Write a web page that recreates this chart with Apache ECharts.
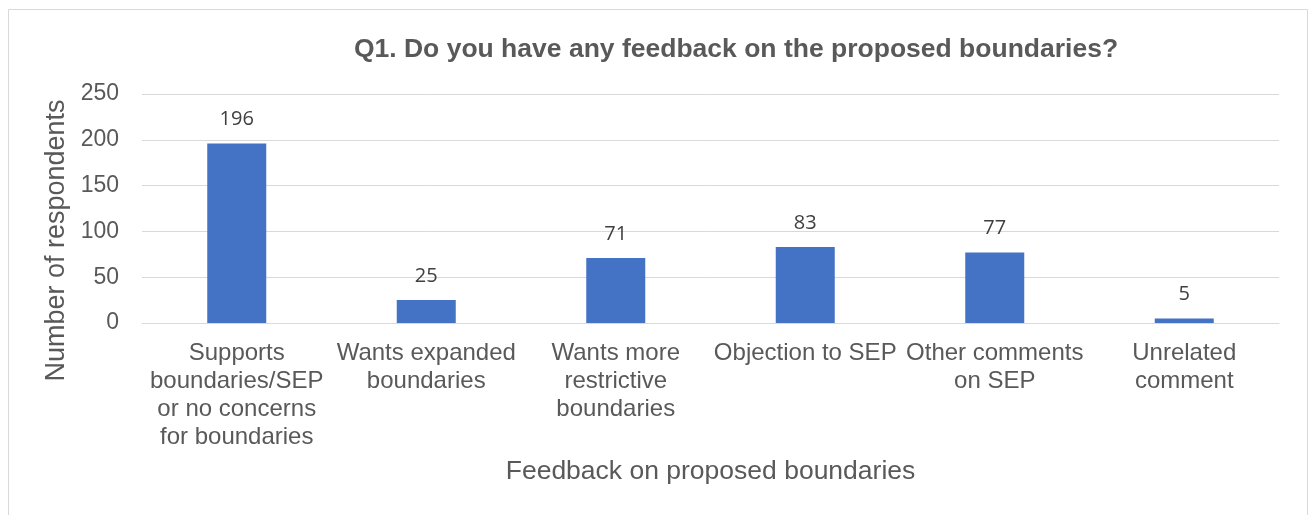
<!DOCTYPE html>
<html>
<head>
<meta charset="utf-8">
<script src="https://cdn.jsdelivr.net/npm/echarts@6/dist/echarts.min.js"></script>
<style>
  html, body { margin: 0; padding: 0; background: #ffffff; }
  #chart { width: 1312px; height: 515px; }
</style>
</head>
<body>
<div id="chart"></div>
<script>
// Feedback categories (line breaks as shown under each bar)
const categories = [
  'Supports\nboundaries/SEP\nor no concerns\nfor boundaries',
  'Wants expanded\nboundaries',
  'Wants more\nrestrictive\nboundaries',
  'Objection to SEP',
  'Other comments\non SEP',
  'Unrelated\ncomment'
];
// Number of respondents per category
const respondents = [196, 25, 71, 83, 77, 5];
// Value axis ticks
const yTicks = [0, 50, 100, 150, 200, 250];

const textGray = '#595959';
const gridGray = '#d9d9d9';

const chart = echarts.init(document.getElementById('chart'), null, { renderer: 'canvas' });

chart.setOption({
  animation: false,
  backgroundColor: '#ffffff',
  title: {
    text: 'Q1. Do you have any feedback on the proposed boundaries?',
    left: 731,
    top: 31,
    textAlign: 'center',
    textStyle: {
      fontFamily: 'Liberation Sans',
      fontWeight: 'bold',
      fontSize: 26.5,
      color: textGray
    }
  },
  graphic: [{
    type: 'rect',
    shape: { x: 8.5, y: 9.5, width: 1299, height: 520 },
    style: { fill: 'none', stroke: gridGray, lineWidth: 1 },
    silent: true
  }],
  grid: {
    left: 142,
    right: 33,
    top: 94,
    bottom: 192,
    containLabel: false
  },
  xAxis: {
    type: 'category',
    data: categories,
    name: 'Feedback on proposed boundaries',
    nameLocation: 'middle',
    nameGap: 135,
    nameTextStyle: {
      fontFamily: 'Liberation Sans',
      fontSize: 26.5,
      color: textGray
    },
    axisLine: { show: true, lineStyle: { color: gridGray, width: 1 } },
    axisTick: { show: false },
    axisLabel: {
      interval: 0,
      margin: 16,
      fontFamily: 'Liberation Sans',
      fontSize: 24,
      lineHeight: 28,
      color: textGray,
      align: 'center'
    }
  },
  yAxis: {
    type: 'value',
    min: yTicks[0],
    max: yTicks[yTicks.length - 1],
    interval: yTicks[1] - yTicks[0],
    name: 'Number of respondents',
    nameLocation: 'middle',
    nameGap: 72,
    nameRotate: 90,
    nameTextStyle: {
      fontFamily: 'Liberation Sans',
      fontSize: 27,
      color: textGray,
      // sits a little below the middle of the value axis
      padding: [0, 64, 0, 0]
    },
    axisLine: { show: false },
    axisTick: { show: false },
    splitLine: { show: true, lineStyle: { color: gridGray, width: 1 } },
    axisLabel: {
      margin: 23,
      padding: [4, 0, 0, 0],
      fontFamily: 'Liberation Sans',
      fontSize: 23,
      color: textGray
    }
  },
  series: [{
    type: 'bar',
    data: respondents,
    barWidth: 59,
    itemStyle: { color: '#4472C4' },
    label: {
      show: true,
      position: 'top',
      distance: 14,
      fontFamily: 'Open Sans',
      fontSize: 20,
      color: '#404040'
    }
  }]
});
</script>
</body>
</html>
